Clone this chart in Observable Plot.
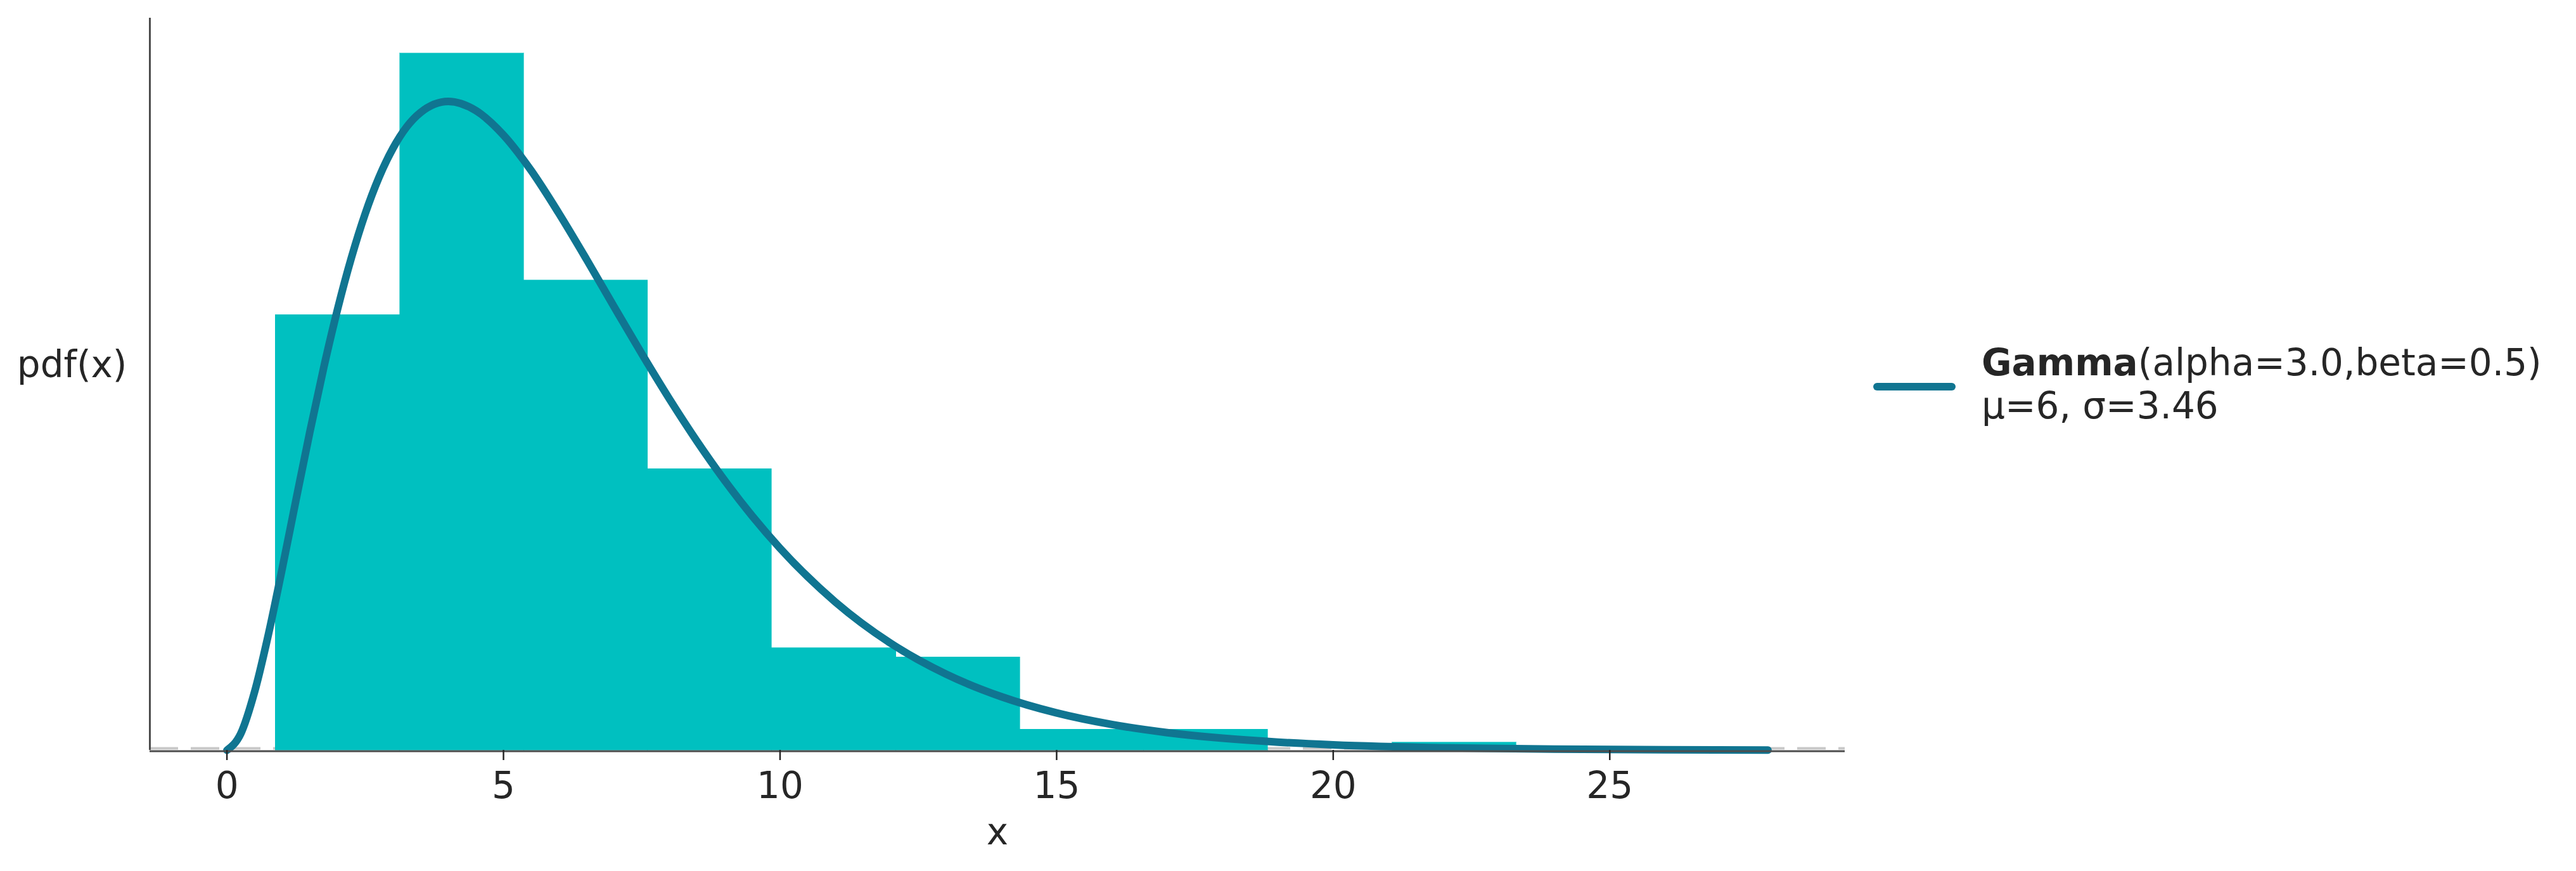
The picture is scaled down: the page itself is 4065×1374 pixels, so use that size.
<!DOCTYPE html>
<html>
<head>
<meta charset="utf-8">
<script src="https://cdn.jsdelivr.net/npm/d3@7"></script>
<script src="https://cdn.jsdelivr.net/npm/@observablehq/plot@0.6"></script>
<style>
  html, body { margin: 0; padding: 0; background: #fff; }
  #wrap { position: relative; width: 4065px; height: 1374px; font-family: "DejaVu Sans", sans-serif; color: #262626; }
  #legend { position: absolute; left: 2956px; top: 538px; }
  #legend .swatch { position: absolute; left: 0; top: 66px; width: 130px; height: 12px; border-radius: 6px; background: #107591; }
  #legend .txt { position: absolute; left: 171px; top: 0; font-size: 58px; line-height: 68px; white-space: nowrap; }
</style>
</head>
<body>
<div id="wrap"><div id="legend"><div class="swatch"></div><div class="txt"><b>Gamma</b>(alpha=3.0,beta=0.5)<br>μ=6, σ=3.46</div></div></div>
<script>
// Histogram (density)
const binEdges = [0.88, 3.13, 5.37, 7.61, 9.85, 12.10, 14.34, 16.58, 18.82, 21.07, 23.31];
const binDensity = [0.0908, 0.1453, 0.0980, 0.0587, 0.0213, 0.0194, 0.00436, 0.00436, 0, 0.00159];

// PDF curve points
const curveX = [0, 0.25, 0.5, 0.75, 1, 1.25, 1.5, 1.75, 2, 2.25, 2.5, 2.75, 3, 3.25, 3.5, 4, 4.5, 5, 5.5, 6, 6.5, 7, 7.5, 8, 8.5, 9, 9.5, 10, 11, 12, 13, 14, 15, 16, 17, 18, 19, 20, 22, 24, 26, 27.86];
const curveY = [0, 0.00345, 0.01217, 0.02416, 0.03791, 0.05227, 0.06643, 0.0798, 0.09197, 0.1027, 0.1119, 0.1195, 0.1255, 0.13, 0.133, 0.1353, 0.1334, 0.1283, 0.1209, 0.112, 0.1024, 0.09248, 0.08269, 0.07326, 0.06441, 0.05624, 0.0488, 0.04211, 0.03091, 0.02231, 0.01588, 0.01117, 0.007777, 0.005368, 0.003676, 0.002499, 0.001689, 0.001135, 0.000505, 0.000221, 0.0000955, 0.0000432];

const xTicks = [0, 5, 10, 15, 20, 25];
const xDomain = [-1.393, 29.253];
const yDomain = [0, 0.1527];

const bins = binDensity.map((d, i) => ({x1: binEdges[i], x2: binEdges[i + 1], y: d}));
const curve = curveX.map((x, i) => ({x, y: curveY[i]}));

const chart = Plot.plot({
  width: 4065,
  height: 1374,
  marginLeft: 236,
  marginRight: 1154,
  marginTop: 28,
  marginBottom: 191,
  style: {fontFamily: "DejaVu Sans, sans-serif", fontSize: "58px", color: "#262626", background: "transparent", overflow: "visible"},
  x: {domain: xDomain},
  y: {domain: yDomain, axis: null},
  marks: [
    Plot.ruleY([0], {stroke: "#c8c8c8", strokeWidth: 4, strokeDasharray: "45,20", dy: -3}),
    Plot.rectY(bins, {x1: "x1", x2: "x2", y: "y", fill: "#00c0c0", stroke: "#00c0c0", strokeWidth: 0.6, inset: 0, shapeRendering: "crispEdges"}),
    Plot.line(curve, {x: "x", y: "y", stroke: "#107591", strokeWidth: 12, strokeLinecap: "round", strokeLinejoin: "round", curve: "monotone-x"}),
    Plot.ruleY([0], {stroke: "#4d4d4d", strokeWidth: 3, dy: 1.5}),
    Plot.ruleX([xDomain[0]], {stroke: "#4d4d4d", strokeWidth: 3}),
    Plot.axisX({ticks: xTicks, tickSize: 16, tickPadding: 18, strokeWidth: 2.5, fontSize: 58, label: null}),
    Plot.text(["x"], {frameAnchor: "bottom", lineAnchor: "middle", dy: 130, fontSize: 58, fill: "#262626"}),
    Plot.text(["pdf(x)"], {frameAnchor: "left", lineAnchor: "middle", textAnchor: "end", dx: -36, dy: -30, fontSize: 58, fill: "#262626"})
  ]
});
document.getElementById("wrap").prepend(chart);
</script>
</body>
</html>
